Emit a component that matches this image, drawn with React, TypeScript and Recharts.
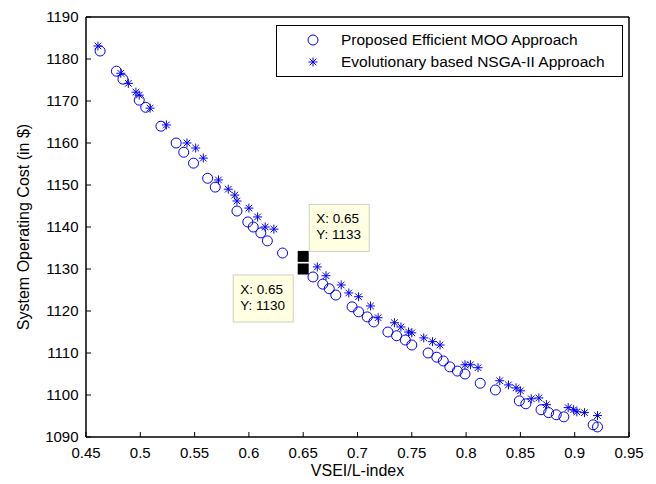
import React from "react"
import { ScatterChart, Scatter, XAxis, YAxis, Legend } from "recharts"

// Proposed Efficient MOO Approach (circles)
const mooX = [0.463, 0.478, 0.484, 0.499, 0.505, 0.519, 0.533, 0.54, 0.549, 0.562, 0.569, 0.589, 0.599, 0.604, 0.611, 0.617, 0.631, 0.659, 0.668, 0.674, 0.68, 0.695, 0.701, 0.709, 0.715, 0.728, 0.736, 0.744, 0.75, 0.765, 0.773, 0.779, 0.785, 0.792, 0.799, 0.813, 0.827, 0.849, 0.855, 0.869, 0.876, 0.883, 0.89, 0.917, 0.921]
const mooY = [1181.9, 1177.1, 1175.2, 1170.2, 1168.5, 1164.0, 1160.0, 1157.8, 1155.2, 1151.6, 1149.5, 1143.8, 1141.2, 1140.0, 1138.6, 1136.7, 1133.8, 1128.1, 1126.4, 1125.3, 1123.8, 1121.0, 1119.8, 1118.6, 1117.4, 1115.0, 1114.1, 1113.1, 1111.9, 1110.0, 1109.0, 1108.1, 1106.7, 1105.7, 1105.0, 1102.8, 1101.2, 1098.6, 1097.9, 1096.5, 1095.8, 1095.3, 1094.8, 1092.9, 1092.4]

// Evolutionary based NSGA-II Approach (asterisks)
const nsgaX = [0.461, 0.482, 0.489, 0.496, 0.499, 0.509, 0.524, 0.543, 0.551, 0.558, 0.572, 0.581, 0.587, 0.589, 0.6, 0.608, 0.615, 0.623, 0.663, 0.671, 0.685, 0.692, 0.701, 0.712, 0.719, 0.734, 0.74, 0.747, 0.75, 0.761, 0.769, 0.776, 0.799, 0.804, 0.811, 0.831, 0.839, 0.846, 0.85, 0.86, 0.867, 0.874, 0.894, 0.899, 0.902, 0.909, 0.921]
const nsgaY = [1183.1, 1176.6, 1174.2, 1172.1, 1171.4, 1168.3, 1164.3, 1160.0, 1158.8, 1156.4, 1151.2, 1149.0, 1147.6, 1146.2, 1144.5, 1142.4, 1140.0, 1139.5, 1130.5, 1128.4, 1126.2, 1124.3, 1123.4, 1121.2, 1118.4, 1117.2, 1116.2, 1115.0, 1114.8, 1113.6, 1112.7, 1111.9, 1107.2, 1107.2, 1106.5, 1103.4, 1102.4, 1101.7, 1101.0, 1099.1, 1099.3, 1097.7, 1097.0, 1096.5, 1096.0, 1095.8, 1095.1]

// data tips
const tipX = [0.65, 0.65]
const tipY = [1133, 1130]

const xTicks = [0.45, 0.5, 0.55, 0.6, 0.65, 0.7, 0.75, 0.8, 0.85, 0.9, 0.95]
const yTicks = [1090, 1100, 1110, 1120, 1130, 1140, 1150, 1160, 1170, 1180, 1190]
const seriesNames = ["Proposed Efficient MOO Approach", "Evolutionary based NSGA-II Approach"]

const moo = mooX.map((x, i) => ({ x, y: mooY[i] }))
const nsga = nsgaX.map((x, i) => ({ x, y: nsgaY[i] }))
const tipUp = [{ x: tipX[0], y: tipY[0] }]
const tipDown = [{ x: tipX[1], y: tipY[1] }]

const FONT = "'Liberation Sans', Arial, sans-serif"
const BLUE = "#0000ff"

function Ring({ cx, cy }: any) {
  return <circle cx={cx} cy={cy} r={5} fill="none" stroke={BLUE} strokeWidth={1} />
}

function Star({ cx, cy }: any) {
  const a = 4.5
  const d = 3.3
  return (
    <g stroke={BLUE} strokeWidth={1}>
      <line x1={cx - a} y1={cy} x2={cx + a} y2={cy} />
      <line x1={cx} y1={cy - a} x2={cx} y2={cy + a} />
      <line x1={cx - d} y1={cy - d} x2={cx + d} y2={cy + d} />
      <line x1={cx - d} y1={cy + d} x2={cx + d} y2={cy - d} />
    </g>
  )
}

function Nothing() {
  return <g />
}

function tipShape(up: boolean) {
  return ({ cx, cy, payload }: any) => {
    const bx = up ? cx + 6 : cx - 70
    const by = up ? cy - 52 : cy + 6
    return (
      <g>
        <rect x={cx - 5.5} y={cy - 5.5} width={11} height={11} fill="#000" />
        <rect x={bx} y={by} width={60} height={47} fill="#ffffe1" stroke="#cfcfc4" />
        <text x={bx + 7} y={by + 18.5} fontSize={13.5} fontFamily={FONT} fill="#000">
          X: {payload.x}
        </text>
        <text x={bx + 7} y={by + 35} fontSize={13.5} fontFamily={FONT} fill="#000">
          Y: {payload.y}
        </text>
      </g>
    )
  }
}

function renderLegend() {
  return (
    <div
      style={{
        width: 347,
        height: 52,
        boxSizing: "border-box",
        border: "1.3px solid #000",
        background: "#fff",
        fontFamily: FONT,
        fontSize: 15.5,
        color: "#000",
        paddingTop: 3,
      }}
    >
      {seriesNames.map((name, i) => (
        <div key={name} style={{ display: "flex", alignItems: "center", height: 22 }}>
          <svg width={64} height={22} style={{ flex: "none" }}>
            {i === 0 ? <Ring cx={36} cy={11} /> : <Star cx={36} cy={11} />}
          </svg>
          <span style={{ whiteSpace: "nowrap" }}>{name}</span>
        </div>
      ))}
    </div>
  )
}

export default function App() {
  const tickStyle = { fill: "#000", fontSize: 15, fontFamily: FONT }
  return (
    <div style={{ position: "absolute", left: 0, top: 0, background: "#fff" }}>
      <ScatterChart width={656} height={484} margin={{ top: 16, right: 26, bottom: 0, left: 26 }}>
        <XAxis
          type="number"
          dataKey="x"
          domain={[0.45, 0.95]}
          ticks={xTicks}
          allowDataOverflow
          height={47}
          stroke="#000"
          axisLine={{ strokeWidth: 1.5 }}
          tickSize={-5}
          tickMargin={15}
          tick={tickStyle}
          label={{
            content: ({ viewBox }: any) => (
              <text x={viewBox.x + viewBox.width / 2} y={476} textAnchor="middle" fontSize={16} fontFamily={FONT} fill="#000">
                VSEI/L-index
              </text>
            ),
          }}
        />
        <XAxis
          xAxisId="top"
          orientation="top"
          type="number"
          dataKey="x"
          domain={[0.45, 0.95]}
          ticks={xTicks}
          allowDataOverflow
          height={1}
          stroke="#000"
          axisLine={{ strokeWidth: 1.5 }}
          tickSize={-5}
          tick={false}
        />
        <YAxis
          type="number"
          dataKey="y"
          domain={[1090, 1190]}
          ticks={yTicks}
          allowDataOverflow
          width={60}
          stroke="#000"
          axisLine={{ strokeWidth: 1.5 }}
          tickSize={-5}
          tickMargin={12.5}
          tick={tickStyle}
          label={{
            content: ({ viewBox }: any) => {
              const cy = viewBox.y + viewBox.height / 2
              return (
                <text x={29} y={cy} transform={`rotate(-90 29 ${cy})`} textAnchor="middle" fontSize={16} fontFamily={FONT} fill="#000">
                  System Operating Cost (in $)
                </text>
              )
            },
          }}
        />
        <YAxis
          yAxisId="right"
          orientation="right"
          type="number"
          dataKey="y"
          domain={[1090, 1190]}
          ticks={yTicks}
          allowDataOverflow
          width={1}
          stroke="#000"
          axisLine={{ strokeWidth: 1.5 }}
          tickSize={-5}
          tick={false}
        />
        <Legend
          layout="horizontal"
          verticalAlign="middle"
          align="center"
          content={renderLegend}
          wrapperStyle={{ left: 276, top: 25, width: 347, height: 52 }}
        />
        {/* invisible series so the mirrored top/right axes are drawn */}
        <Scatter data={moo} xAxisId="top" yAxisId="right" shape={<Nothing />} isAnimationActive={false} legendType="none" />
        <Scatter name={seriesNames[0]} data={moo} shape={<Ring />} isAnimationActive={false} />
        <Scatter name={seriesNames[1]} data={nsga} shape={<Star />} isAnimationActive={false} />
        <Scatter data={tipDown} shape={tipShape(false)} isAnimationActive={false} legendType="none" />
        <Scatter data={tipUp} shape={tipShape(true)} isAnimationActive={false} legendType="none" />
      </ScatterChart>
    </div>
  )
}
